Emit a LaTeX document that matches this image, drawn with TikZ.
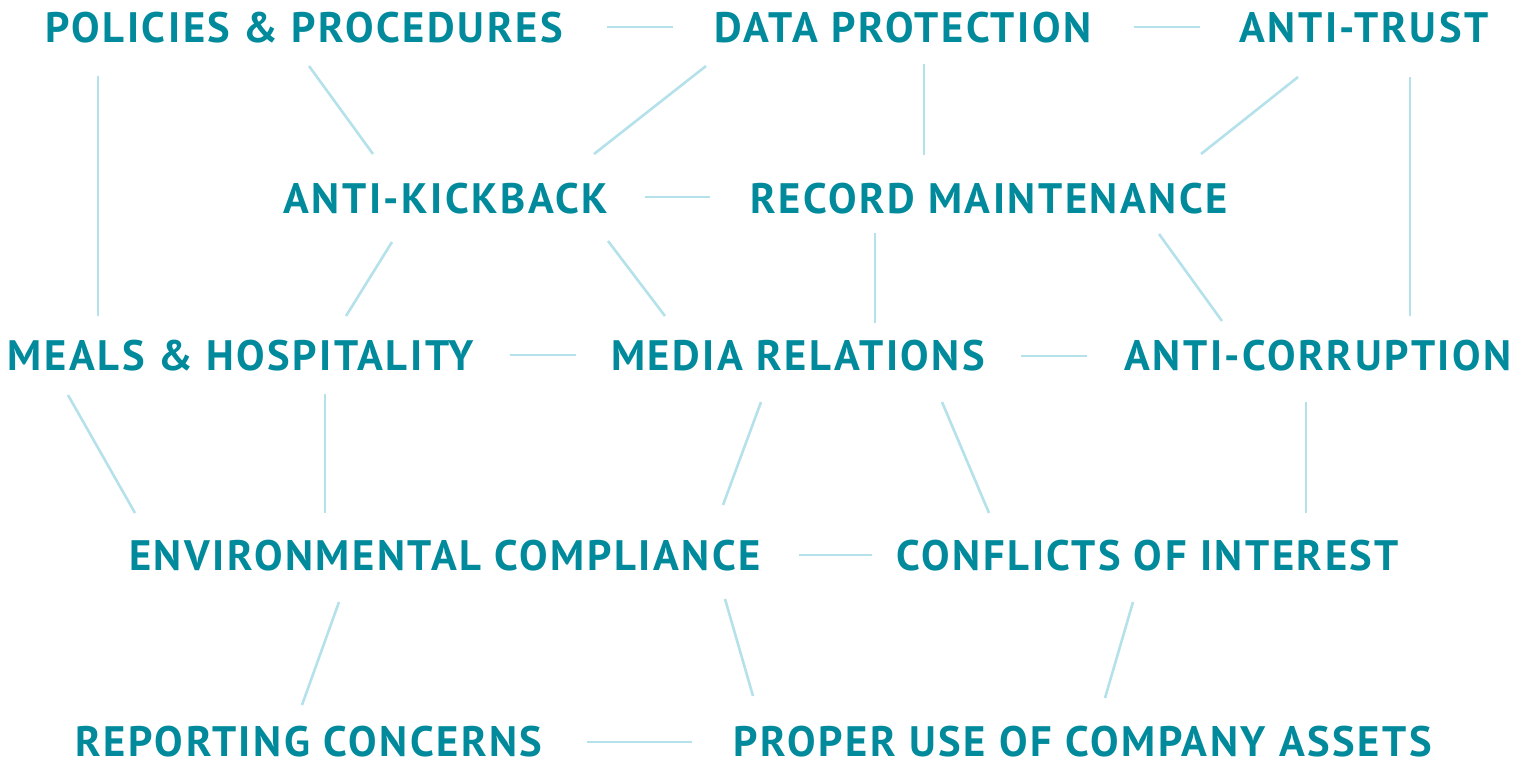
\documentclass[tikz,border=0pt]{standalone}
\usepackage{fontspec}
\setsansfont[LetterSpace=6]{PT Sans}
\definecolor{topicteal}{HTML}{008A9B}
\definecolor{linkblue}{HTML}{B5E1EA}

\begin{document}
\begin{tikzpicture}[x=0.5pt, y=-0.5pt,
    topic/.style = {font=\sffamily\bfseries\fontsize{21.3}{24}\selectfont,
      text=topicteal, inner sep=0pt, anchor=base},
    link/.style = {draw=linkblue, line width=1.3pt},
  ]
\useasboundingbox (0,0) rectangle (1515,761);

% topics, placed on their base lines
\node[topic] (pp)   at (304,42)  {POLICIES \& PROCEDURES};
\node[topic] (dp)   at (903,42)  {DATA PROTECTION};
\node[topic] (at)   at (1364,42) {ANTI-TRUST};
\node[topic] (ak)   at (446,213) {ANTI-KICKBACK};
\node[topic] (rm)   at (989,213) {RECORD MAINTENANCE};
\node[topic] (mh)   at (241,370) {MEALS \& HOSPITALITY};
\node[topic] (mr)   at (798,370) {MEDIA RELATIONS};
\node[topic] (ac)   at (1318,370) {ANTI-CORRUPTION};
\node[topic] (ec)   at (445,570) {ENVIRONMENTAL COMPLIANCE};
\node[topic] (coi)  at (1148,570) {CONFLICTS OF INTEREST};
\node[topic] (rc)   at (309,756) {REPORTING CONCERNS};
\node[topic] (puca) at (1083,756) {PROPER USE OF COMPANY ASSETS};

% links
\draw[link] ([shift={(303,-15)}]pp.base) -- ([shift={(-230,-15)}]dp.base);
\draw[link] ([shift={(231,-15)}]dp.base) -- ([shift={(-164,-15)}]at.base);
\draw[link] ([shift={(-206,34)}]pp.base) -- ([shift={(-143,-54)}]mh.base);
\draw[link] ([shift={(5,24)}]pp.base) -- ([shift={(-73,-59)}]ak.base);
\draw[link] ([shift={(-197,24)}]dp.base) -- ([shift={(148,-59)}]ak.base);
\draw[link] ([shift={(21,22)}]dp.base) -- ([shift={(-65,-58)}]rm.base);
\draw[link] ([shift={(-66,35)}]at.base) -- ([shift={(212,-59)}]rm.base);
\draw[link] ([shift={(46,35)}]at.base) -- ([shift={(92,-54)}]ac.base);
\draw[link] ([shift={(199,-16)}]ak.base) -- ([shift={(-279,-16)}]rm.base);
\draw[link] ([shift={(-54,29)}]ak.base) -- ([shift={(105,-54)}]mh.base);
\draw[link] ([shift={(162,28)}]ak.base) -- ([shift={(-133,-54)}]mr.base);
\draw[link] ([shift={(-114,20)}]rm.base) -- ([shift={(77,-47)}]mr.base);
\draw[link] ([shift={(170,21)}]rm.base) -- ([shift={(-96,-49)}]ac.base);
\draw[link] ([shift={(269,-15)}]mh.base) -- ([shift={(-222,-15)}]mr.base);
\draw[link] ([shift={(223,-14)}]mr.base) -- ([shift={(-231,-14)}]ac.base);
\draw[link] ([shift={(-173,25)}]mh.base) -- ([shift={(-310,-57)}]ec.base);
\draw[link] ([shift={(84,24)}]mh.base) -- ([shift={(-120,-57)}]ec.base);
\draw[link] ([shift={(-37,32)}]mr.base) -- ([shift={(278,-65)}]ec.base);
\draw[link] ([shift={(144,32)}]mr.base) -- ([shift={(-159,-57)}]coi.base);
\draw[link] ([shift={(-12,32)}]ac.base) -- ([shift={(158,-57)}]coi.base);
\draw[link] ([shift={(354,-15)}]ec.base) -- ([shift={(-276,-15)}]coi.base);
\draw[link] ([shift={(-106,32)}]ec.base) -- ([shift={(-7,-51)}]rc.base);
\draw[link] ([shift={(280,29)}]ec.base) -- ([shift={(-330,-60)}]puca.base);
\draw[link] ([shift={(-15,32)}]coi.base) -- ([shift={(22,-58)}]puca.base);
\draw[link] ([shift={(278,-14)}]rc.base) -- ([shift={(-391,-14)}]puca.base);
\end{tikzpicture}
\end{document}
